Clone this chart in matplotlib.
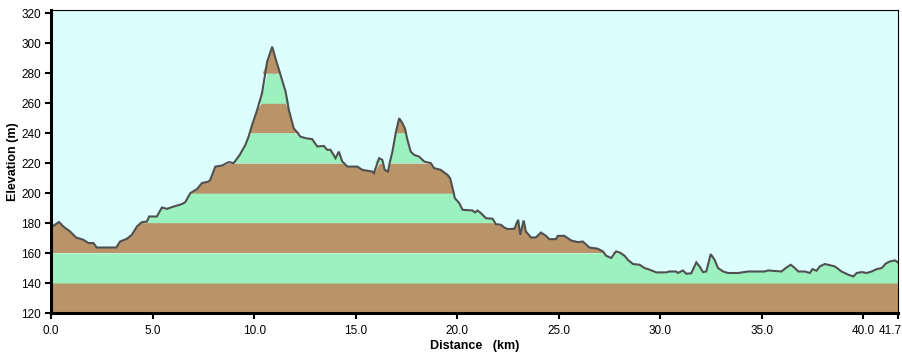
import matplotlib
matplotlib.use("Agg")
import matplotlib.pyplot as plt
import matplotlib.transforms as mtransforms
import numpy as np

# elevation profile (km, m)
dist = [0.0, 0.03, 0.2, 0.39, 0.61, 0.94, 1.23, 1.59, 1.84, 2.09, 2.25, 3.21, 3.40, 3.73,
        3.98, 4.23, 4.47, 4.72, 4.83, 5.21, 5.46, 5.71, 6.03, 6.45, 6.61, 6.86, 7.19, 7.43,
        7.76, 7.84, 8.09, 8.42, 8.75, 8.99, 9.29, 9.57, 9.73, 9.90, 10.15, 10.39, 10.64,
        10.89, 11.05, 11.30, 11.55, 11.71, 11.95, 12.28, 12.53, 12.86, 13.11, 13.43, 13.60,
        13.76, 14.01, 14.17, 14.34, 14.59, 15.08, 15.33, 15.82, 15.90, 16.15, 16.31, 16.43,
        16.59, 16.69, 16.81, 16.97, 17.14, 17.30, 17.42, 17.55, 17.71, 17.88, 18.12, 18.37,
        18.70, 18.86, 19.19, 19.52, 19.65, 19.77, 19.88, 20.10, 20.26, 20.75, 20.87, 21.00,
        21.16, 21.41, 21.74, 21.90, 22.15, 22.31, 22.48, 22.81, 23.00, 23.10, 23.27, 23.38,
        23.63, 23.87, 24.12, 24.37, 24.53, 24.86, 24.95, 25.27, 25.61, 25.93, 26.18, 26.51,
        26.92, 27.17, 27.33, 27.58, 27.82, 27.99, 28.24, 28.40, 28.65, 28.98, 29.22, 29.47,
        29.80, 30.29, 30.45, 30.78, 30.86, 31.11, 31.28, 31.52, 31.77, 31.93, 32.10, 32.26,
        32.48, 32.67, 32.84, 33.09, 33.33, 33.83, 34.32, 35.14, 35.31, 35.96, 36.21, 36.42,
        36.62, 36.79, 37.11, 37.36, 37.49, 37.69, 37.85, 38.10, 38.59, 38.92, 39.26, 39.50,
        39.67, 39.91, 40.16, 40.40, 40.65, 40.90, 41.09, 41.30, 41.55, 41.7]
elev = [190.7, 177.3, 179.0, 180.7, 177.7, 174.4, 170.4, 168.9, 166.7, 166.7, 163.7, 163.7, 167.7, 169.5,
        172.2, 177.7, 180.6, 181.0, 184.4, 184.4, 190.4, 189.5, 191.0, 192.7, 194.0, 200.0, 202.7, 206.7,
        207.7, 208.9, 217.7, 218.4, 220.7, 220.0, 225.5, 232.2, 237.7, 245.5, 255.5, 266.7, 287.7,
        297.7, 290.0, 278.9, 267.7, 255.5, 243.3, 237.7, 236.7, 236.0, 231.1, 231.5, 228.9,
        228.9, 223.3, 227.7, 221.1, 217.7, 217.7, 215.5, 214.4, 213.3, 223.3, 222.2, 215.5,
        214.4, 221.1, 227.7, 240.0, 250.0, 246.7, 243.3, 235.5, 227.7, 225.5, 224.4, 221.1,
        220.0, 216.7, 215.5, 212.2, 210.0, 203.3, 196.7, 193.3, 188.9, 188.4, 187.1, 188.4,
        186.7, 183.3, 182.9, 179.3, 178.9, 177.1, 176.0, 176.2, 182.2, 172.2, 181.7, 174.4,
        170.4, 170.4, 173.7, 171.5, 169.3, 169.3, 171.5, 171.5, 168.4, 167.3, 167.7, 163.7,
        162.9, 161.1, 158.2, 156.7, 161.1, 160.4, 158.2, 155.5, 152.7, 152.2, 150.0, 148.9,
        147.1, 147.1, 147.7, 147.7, 146.7, 148.4, 146.2, 146.5, 153.8, 151.1, 147.3, 147.7,
        159.3, 155.5, 150.0, 147.7, 146.7, 146.7, 147.7, 147.7, 148.4, 147.7, 150.4, 152.2,
        150.0, 147.7, 147.7, 146.7, 149.3, 148.2, 151.1, 152.7, 151.1, 147.7, 145.5, 144.4,
        146.7, 147.3, 146.7, 147.7, 149.3, 150.0, 152.9, 154.4, 155.1, 153.7]

xticks = [0, 5, 10, 15, 20, 25, 30, 35, 40, 41.7]
xtick_labels = ["0.0", "5.0", "10.0", "15.0", "20.0", "25.0", "30.0", "35.0", "40.0", "41.7"]
yticks = list(range(120, 321, 20))

BROWN = "#b89468"
GREEN = "#9cf2be"
BG = "#dcfefe"

plt.rcParams['font.family'] = ['Liberation Sans', 'DejaVu Sans']

W, H = 903, 358
fig = plt.figure(figsize=(W / 100, H / 100), dpi=100)
ax = fig.add_axes([51 / W, (H - 313) / H, (898 - 51) / W, (313 - 10) / H])
ax.set_facecolor(BG)

x = np.array(dist)
y = np.array(elev)

# 20 m bands, alternating colours, clipped by the profile
for i, lo in enumerate(range(120, 320, 20)):
    hi = lo + 20
    col = BROWN if i % 2 == 0 else GREEN
    top = np.clip(y, lo, hi)
    ax.fill_between(x, lo, top, where=y > lo, color=col, lw=0, interpolate=True)

ax.plot(x, y, color="#505050", lw=1.5, solid_joinstyle="miter")

ax.set_xlim(0, 41.7)
ax.set_ylim(120, 322.2)
ax.set_xticks(xticks)
ax.set_xticklabels(xtick_labels)
ax.set_yticks(yticks)

ax.spines['left'].set_linewidth(2.2)
ax.spines['bottom'].set_linewidth(2.2)
ax.spines['top'].set_linewidth(0.8)
ax.spines['right'].set_linewidth(0.8)
ax.tick_params(axis='both', direction='out', length=4, width=1.5, labelsize=8.5, pad=3)
ax.tick_params(axis='x', pad=5)

# last label pushed left so it stays inside the figure
last = ax.get_xticklabels()[-1]
last.set_horizontalalignment('right')
last.set_transform(last.get_transform() + mtransforms.ScaledTranslation(4 / 100, 0, fig.dpi_scale_trans))

ax.set_xlabel("Distance   (km)", fontsize=9, fontweight='bold', labelpad=2)
ax.set_ylabel("Elevation (m)", fontsize=9, fontweight='bold', labelpad=2)

fig.savefig("out.png", dpi=100, facecolor="white")
